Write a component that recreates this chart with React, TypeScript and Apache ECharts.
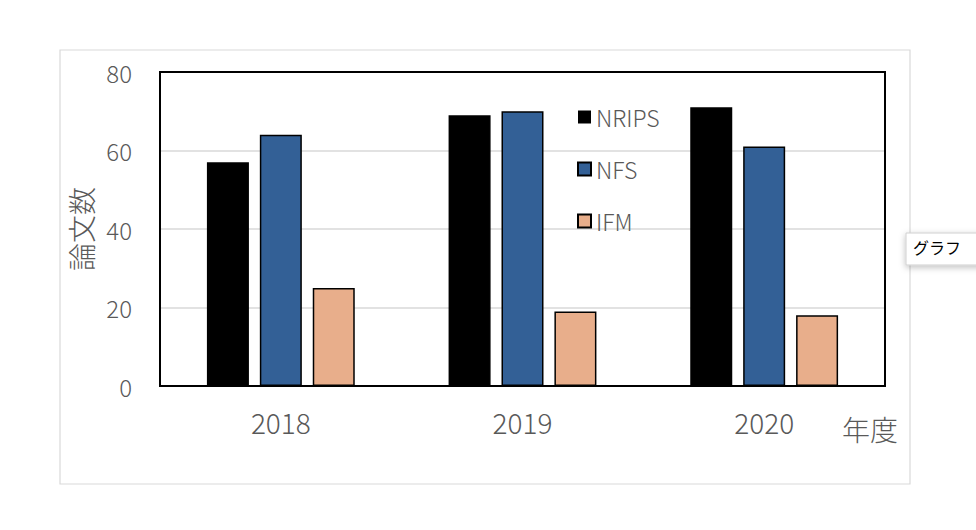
import React, { useEffect, useRef } from "react";
import * as echarts from "echarts";

const years = ["2018", "2019", "2020"];
const nrips = [57, 69, 71];
const nfs = [64, 70, 61];
const ifm = [25, 19, 18];
const yTicks = { min: 0, max: 80, interval: 20 };

const FONT = '"Noto Sans CJK JP", "Noto Sans", sans-serif';
const GREY = "#595959";

export default function App() {
  const ref = useRef<HTMLDivElement>(null);
  useEffect(() => {
    if (!ref.current) return;
    const chart = echarts.init(ref.current, null, { renderer: "svg" });
    const mk = (name: string, data: number[], color: string) => ({
      name,
      type: "bar",
      data,
      barWidth: 42,
      barGap: "26%",
      itemStyle: { color, borderColor: "#000", borderWidth: 1.5 },
    });
    chart.setOption({
      animation: false,
      backgroundColor: "#fff",
      textStyle: { fontFamily: FONT },
      grid: {
        left: 160,
        top: 72,
        width: 725,
        height: 314,
        show: false,
      },
      legend: {
        orient: "vertical",
        left: 577,
        top: 104,
        padding: 0,
        itemWidth: 13,
        itemHeight: 13,
        itemGap: 26,
        icon: "rect",
        data: [
          { name: "NRIPS", itemStyle: { borderWidth: 0 } },
          { name: "NFS" },
          { name: "IFM" },
        ],
        textStyle: {
          color: GREY,
          fontSize: 23,
          fontWeight: 300,
          fontFamily: FONT,
          lineHeight: 26,
          padding: [0, 0, 0, 0],
        },
      },
      xAxis: {
        type: "category",
        data: years,
        axisLine: { show: false },
        axisTick: { show: false },
        axisLabel: { color: GREY, fontSize: 28, fontWeight: 300, margin: 22, fontFamily: FONT },
      },
      yAxis: {
        type: "value",
        min: yTicks.min,
        max: yTicks.max,
        interval: yTicks.interval,
        name: "論文数",
        nameLocation: "middle",
        nameRotate: 90,
        nameGap: 52,
        nameTextStyle: { color: GREY, fontSize: 28, fontWeight: 300, fontFamily: FONT },
        axisLine: { show: false },
        axisTick: { show: false },
        axisLabel: { color: GREY, fontSize: 24, fontWeight: 300, margin: 28, fontFamily: FONT },
        splitLine: { lineStyle: { color: "#d9d9d9", width: 1.5 } },
      },
      series: [mk("NRIPS", nrips, "#000000"), mk("NFS", nfs, "#336096"), mk("IFM", ifm, "#e8ae8b")],
      graphic: [
        {
          type: "rect",
          shape: { x: 60, y: 50, width: 850, height: 434 },
          style: { fill: "transparent", stroke: "#d9d9d9", lineWidth: 1.2 },
          silent: true,
          z: -1,
        },
        {
          type: "rect",
          shape: { x: 160, y: 72, width: 725, height: 314 },
          style: { fill: "transparent", stroke: "#000", lineWidth: 2 },
          silent: true,
          z: 5,
        },
        {
          type: "text",
          x: 842,
          y: 415,
          style: { text: "年度", fill: GREY, font: `300 28px ${FONT}` },
        },
        {
          type: "rect",
          shape: { x: 906, y: 233, width: 80, height: 32 },
          style: {
            fill: "#fff",
            stroke: "#cfcfcf",
            lineWidth: 1,
            shadowBlur: 6,
            shadowColor: "rgba(0,0,0,0.25)",
            shadowOffsetY: 2,
          },
          z: 10,
        },
        {
          type: "text",
          x: 913,
          y: 239,
          style: { text: "グラフ", fill: "#000", font: `16px ${FONT}` },
          z: 11,
        },
      ],
    });
    return () => chart.dispose();
  }, []);
  return (
    <div
      ref={ref}
      style={{ position: "absolute", left: 0, top: 0, width: 976, height: 530 }}
    />
  );
}
